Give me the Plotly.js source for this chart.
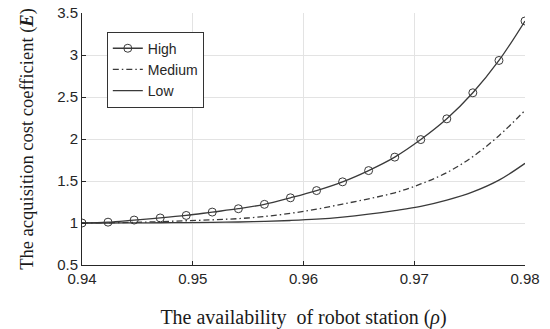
<!DOCTYPE html>
<html>
<head>
<meta charset="utf-8">
<script src="https://cdn.plot.ly/plotly-3.0.1.min.js"></script>
<style>html,body{margin:0;padding:0;background:#fff;}#chart{width:550px;height:329px;}</style>
</head>
<body>
<div id="chart"></div>
<script>
// availability of robot station (rho), 18 evenly spaced samples from 0.94 to 0.98
const rho = [0.94, 0.94235, 0.94471, 0.94706, 0.94941, 0.95176, 0.95412, 0.95647, 0.95882,
             0.96118, 0.96353, 0.96588, 0.96824, 0.97059, 0.97294, 0.97529, 0.97765, 0.98];
const highE   = [1.0, 1.01, 1.035, 1.06, 1.09, 1.13, 1.17, 1.222, 1.30,
                 1.386, 1.49, 1.624, 1.784, 1.993, 2.24, 2.55, 2.935, 3.405];
const mediumE = [1.0, 1.003, 1.008, 1.016, 1.027, 1.038, 1.052, 1.078, 1.115,
                 1.165, 1.225, 1.288, 1.36, 1.465, 1.60, 1.79, 2.04, 2.34];
const lowE    = [1.0, 1.0, 1.001, 1.003, 1.005, 1.008, 1.012, 1.02, 1.03,
                 1.045, 1.07, 1.105, 1.148, 1.198, 1.272, 1.37, 1.51, 1.71];
const seriesNames = ['High', 'Medium', 'Low'];
const xTicks = [0.94, 0.95, 0.96, 0.97, 0.98];
const xTickText = ['0.94', '0.95', '0.96', '0.97', '0.98'];
const yTicks = [0.5, 1, 1.5, 2, 2.5, 3, 3.5];
const yTickText = ['0.5', '1', '1.5', '2', '2.5', '3', '3.5'];

const lineColor = '#3a3a3a';
const traces = [
  {x: rho, y: highE, name: seriesNames[0], type: 'scatter', mode: 'lines+markers',
   line: {color: lineColor, width: 1.3, shape: 'spline'},
   marker: {symbol: 'circle-open', size: 8, color: lineColor, line: {width: 1}}},
  {x: rho, y: mediumE, name: seriesNames[1], type: 'scatter', mode: 'lines',
   line: {color: lineColor, width: 1.3, dash: '6px,3px,1.5px,3px', shape: 'spline'}},
  {x: rho, y: lowE, name: seriesNames[2], type: 'scatter', mode: 'lines',
   line: {color: lineColor, width: 1.3, shape: 'spline'}}
];

const layout = {
  width: 550, height: 329,
  margin: {l: 82, r: 25, t: 13, b: 64},
  paper_bgcolor: '#fff', plot_bgcolor: '#fff',
  font: {family: 'Liberation Sans, Arial, sans-serif', size: 15, color: '#262626'},
  showlegend: true,
  legend: {x: 0.056, y: 0.926, xanchor: 'left', yanchor: 'top',
           bgcolor: '#fff', bordercolor: '#333', borderwidth: 1,
           font: {family: 'Liberation Sans, Arial, sans-serif', size: 14, color: '#262626'},
           tracegroupgap: 0, itemwidth: 30},
  xaxis: {
    range: [0.94, 0.98], tickvals: xTicks, ticktext: xTickText,
    showgrid: true, gridcolor: '#e3e3e3', gridwidth: 1,
    showline: true, linecolor: '#262626', linewidth: 1, mirror: false,
    ticks: 'inside', ticklen: 4, tickcolor: '#262626', zeroline: false,
    tickfont: {size: 15, color: '#262626'},
    title: {text: 'The availability&nbsp; of robot station (<i>ρ</i>)', standoff: 26,
            font: {family: 'Liberation Serif, Times New Roman, serif', size: 20, color: '#1a1a1a'}}
  },
  yaxis: {
    range: [0.5, 3.5], tickvals: yTicks, ticktext: yTickText,
    showgrid: true, gridcolor: '#e3e3e3', gridwidth: 1,
    showline: true, linecolor: '#262626', linewidth: 1, mirror: false,
    ticks: 'inside', ticklen: 4, tickcolor: '#262626', zeroline: false,
    tickfont: {size: 15, color: '#262626'},
    title: {text: 'The acquisition cost coefficient (<b><i>E</i></b>)', standoff: 18,
            font: {family: 'Liberation Serif, Times New Roman, serif', size: 18.5, color: '#1a1a1a'}}
  }
};

Plotly.newPlot('chart', traces, layout, {displayModeBar: false, staticPlot: true});
</script>
</body>
</html>
